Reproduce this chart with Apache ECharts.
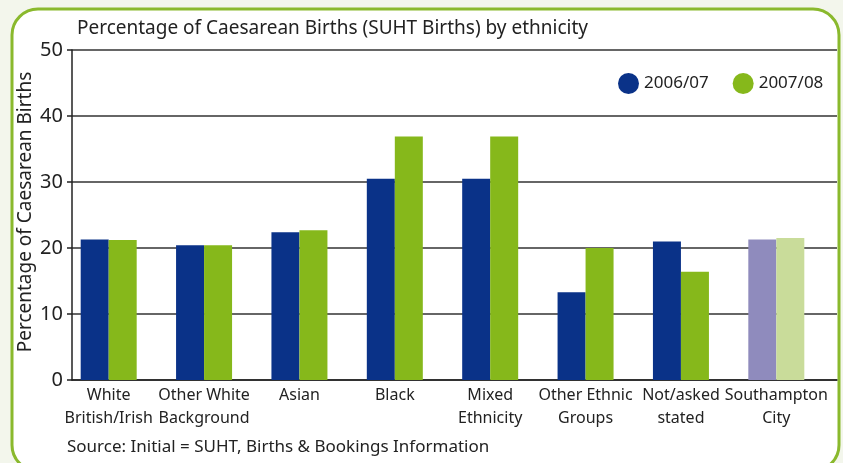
<!DOCTYPE html>
<html>
<head>
<meta charset="utf-8">
<script src="https://cdn.jsdelivr.net/npm/echarts@6/dist/echarts.min.js"></script>
<style>
  html, body { margin: 0; padding: 0; background: #f3f6ec; }
  #chart { width: 843px; height: 463px; }
</style>
</head>
<body>
<div id="chart"></div>
<script>
  // categories and values
  var categories = ['White\nBritish/Irish', 'Other White\nBackground', 'Asian', 'Black',
    'Mixed\nEthnicity', 'Other Ethnic\nGroups', 'Not/asked\nstated', 'Southampton\nCity']
  var values0607 = [21.3, 20.4, 22.4, 30.5, 30.5, 13.3, 21.0, 21.3]
  var values0708 = [21.2, 20.4, 22.7, 36.9, 36.9, 20.0, 16.4, 21.5]
  var yTicks = [0, 10, 20, 30, 40, 50]

  var blue = '#0a3288'
  var green = '#86b81b'
  var font = 'Noto Sans'

  // last category (city total) gets paler colours
  function withCity (arr, cityColor) {
    return arr.map(function (v, i) {
      if (i === arr.length - 1) return { value: v, itemStyle: { color: cityColor } }
      return v
    })
  }

  var chart = echarts.init(document.getElementById('chart'))
  var option = {
    backgroundColor: '#f3f6ec',
    textStyle: { fontFamily: font, color: '#222' },
    graphic: [{
      type: 'rect',
      z: -10,
      shape: { x: 12, y: 9, width: 827, height: 462, r: 26 },
      style: { fill: '#ffffff', stroke: '#8ab92d', lineWidth: 3 }
    }, {
      type: 'text',
      left: 67,
      top: 439,
      style: { text: 'Source: Initial = SUHT, Births & Bookings Information', fontFamily: font, fontSize: 17, fill: '#222' }
    }],
    title: {
      text: 'Percentage of Caesarean Births (SUHT Births) by ethnicity',
      left: 72,
      top: 14,
      textStyle: { fontFamily: font, fontSize: 19, fontWeight: 'normal', color: '#222' }
    },
    legend: {
      data: ['2006/07', '2007/08'],
      left: 613,
      top: 68,
      icon: 'circle',
      itemWidth: 21,
      itemHeight: 21,
      itemGap: 24,
      textStyle: { fontFamily: font, fontSize: 17, color: '#222' }
    },
    grid: [
      { left: 72, right: 6, top: 50, bottom: 83 },
      { left: 61, right: 19, top: 50, bottom: 83 }
    ],
    xAxis: [{
      gridIndex: 0,
      type: 'value',
      min: 0,
      max: 1,
      axisLine: { show: true, onZero: false, lineStyle: { color: '#222', width: 1.5 } },
      axisTick: { show: false },
      axisLabel: { show: false },
      splitLine: { show: false }
    }, {
      gridIndex: 1,
      type: 'category',
      data: categories,
      axisLine: { show: false },
      axisTick: { show: false },
      axisLabel: {
        interval: 0,
        margin: 4,
        fontFamily: font,
        fontSize: 16,
        lineHeight: 23,
        color: '#222'
      }
    }],
    yAxis: [{
      gridIndex: 0,
      type: 'value',
      min: yTicks[0],
      max: yTicks[yTicks.length - 1],
      interval: 10,
      name: 'Percentage of Caesarean Births',
      nameLocation: 'middle',
      nameGap: 37,
      nameMoveOverlap: false,
      nameTextStyle: { fontFamily: font, fontSize: 19, color: '#222', padding: [0, 0, 0, 6] },
      axisLine: { show: true, lineStyle: { color: '#222', width: 1.5 } },
      axisTick: { show: true, length: 5, lineStyle: { color: '#222', width: 1.5 } },
      axisLabel: { fontFamily: font, fontSize: 20, color: '#222', margin: 9 },
      splitLine: { show: true, lineStyle: { color: '#333', width: 1.5 } }
    }, {
      gridIndex: 1,
      type: 'value',
      min: yTicks[0],
      max: yTicks[yTicks.length - 1],
      show: false
    }],
    series: [{
      name: '2006/07',
      type: 'bar',
      xAxisIndex: 1,
      yAxisIndex: 1,
      barWidth: 28,
      barGap: 0,
      itemStyle: { color: blue },
      data: withCity(values0607, '#8f8bbd')
    }, {
      name: '2007/08',
      type: 'bar',
      xAxisIndex: 1,
      yAxisIndex: 1,
      barWidth: 28,
      barGap: 0,
      itemStyle: { color: green },
      data: withCity(values0708, '#c9dc9a')
    }]
  }
  chart.setOption(option)
</script>
</body>
</html>
